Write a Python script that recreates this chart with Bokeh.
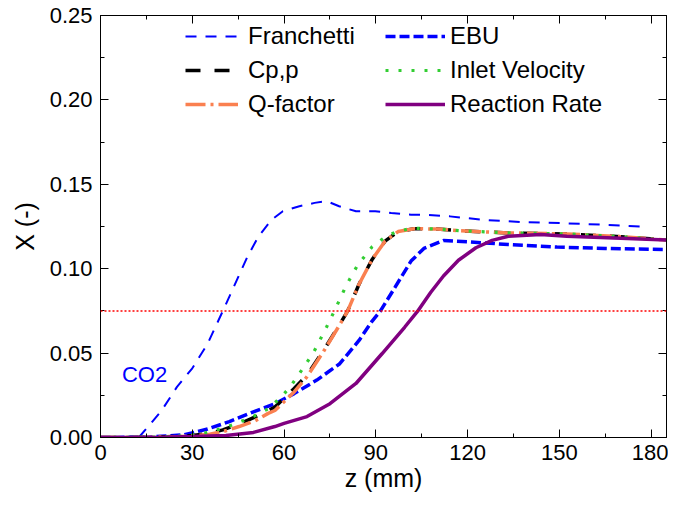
from bokeh.plotting import figure
from bokeh.models import (Range1d, LinearAxis, Legend, LegendItem, FixedTicker,
                          NumeralTickFormatter, Span, Label)
from bokeh.embed import file_html
from bokeh.resources import INLINE

# ---------------- data ----------------
z_fr = [12.5, 15.6, 20, 25, 30, 35, 40, 45, 48, 51.6, 55.9, 59.6, 65, 70, 73.9,
        78, 83.5, 89.8, 95, 101.5, 105.7, 114.2, 124.8, 137.5, 150.3, 165, 177]
x_fr = [0.0, 0.0065, 0.016, 0.030, 0.041, 0.0555, 0.075, 0.095, 0.107, 0.119, 0.129,
        0.134, 0.137, 0.139, 0.140, 0.137, 0.134, 0.134, 0.133, 0.132, 0.132, 0.131,
        0.129, 0.1276, 0.127, 0.126, 0.125]

z_ebu = [0, 15, 27.3, 35, 42.1, 50, 57, 63.3, 70.7, 78.2, 84.5, 88.8, 91.4, 96.2,
         101.5, 105.7, 112.1, 120.6, 133.3, 149.2, 165, 185]
x_ebu = [0, 0.0002, 0.0016, 0.005, 0.0094, 0.0152, 0.020, 0.026, 0.034, 0.0437,
         0.0575, 0.069, 0.0747, 0.0888, 0.1045, 0.112, 0.1167, 0.1159, 0.1143,
         0.1128, 0.112, 0.1114]

z_cp = [0, 15, 25, 30, 35.7, 40, 45.3, 50.6, 57, 63.3, 67.5, 72.9, 77.6, 80.8, 84.5,
        88.8, 93, 97.3, 102.5, 110, 117.4, 133.3, 152.4, 170, 185]
x_cp = [0, 0.0001, 0.0006, 0.0012, 0.0025, 0.0045, 0.0080, 0.0122, 0.018, 0.029,
        0.0369, 0.0516, 0.0653, 0.075, 0.0908, 0.1055, 0.1163, 0.122, 0.1237,
        0.1235, 0.1225, 0.1212, 0.1206, 0.119, 0.117]

z_iv = [0, 15, 25, 30, 35, 40, 45, 50, 54.8, 59.1, 62, 66.5, 69.7, 73.9, 76.6, 80.3,
        84, 88.8, 92.5, 96.7, 102, 110, 117.4, 133.3, 152.4, 170, 185]
x_iv = [0, 0.0001, 0.0007, 0.0014, 0.003, 0.0055, 0.0088, 0.0125, 0.017, 0.024,
        0.030, 0.0418, 0.0506, 0.0655, 0.0755, 0.090, 0.102, 0.113, 0.118, 0.122,
        0.124, 0.1235, 0.1225, 0.1212, 0.1206, 0.119, 0.117]

z_qf = [0, 15, 25, 30, 35.7, 40, 45.3, 50.6, 54.8, 57, 63.3, 67.5, 72.9, 77.6, 80.8,
        84.5, 88.8, 93, 97.3, 102.5, 110, 117.4, 133.3, 152.4, 170, 185]
x_qf = [0, 0.0001, 0.0005, 0.0010, 0.0020, 0.0035, 0.0065, 0.010, 0.0143, 0.016,
        0.027, 0.0360, 0.0510, 0.0650, 0.075, 0.0908, 0.1055, 0.1163, 0.122, 0.1237,
        0.1235, 0.1225, 0.1212, 0.1206, 0.119, 0.117]

z_rr = [0, 20, 30, 41, 50, 57, 60, 67.5, 75, 83.5, 92, 99.4, 103.6, 107.9, 112.1,
        117, 122.7, 128, 133.3, 143.9, 152.4, 170, 185]
x_rr = [0, 0.0002, 0.0006, 0.0012, 0.003, 0.0065, 0.0084, 0.0124, 0.020, 0.032,
        0.0496, 0.0653, 0.0747, 0.0859, 0.0957, 0.105, 0.1124, 0.1168, 0.1192,
        0.1202, 0.1192, 0.118, 0.117]

threshold = 0.075
x_ticks = [0, 30, 60, 90, 120, 150, 180]
y_ticks = [0.00, 0.05, 0.10, 0.15, 0.20, 0.25]
series_labels = ["Franchetti", "EBU", "Cp,p", "Inlet Velocity", "Q-factor", "Reaction Rate"]
annotation = "CO2"

FONT = "Liberation Sans"

p = figure(width=668, height=494, output_backend="svg", toolbar_location=None,
           x_range=Range1d(0, 185), y_range=Range1d(0, 0.25),
           min_border_left=100, min_border_right=2, min_border_top=15, min_border_bottom=56,
           x_axis_label="z (mm)", y_axis_label="X (-)")
p.grid.visible = False
p.outline_line_color = "black"
p.outline_line_width = 1


def style_axis(ax, ticks, minor, show_labels=True):
    ax.ticker = FixedTicker(ticks=ticks, minor_ticks=minor)
    ax.axis_line_color = "black"
    ax.axis_line_width = 1
    ax.major_tick_in = 8
    ax.major_tick_out = 0
    ax.minor_tick_in = 4
    ax.minor_tick_out = 0
    ax.major_tick_line_color = "black"
    ax.minor_tick_line_color = "black"
    ax.major_label_text_font = FONT
    ax.major_label_text_font_size = "22px"
    ax.major_label_text_color = "black"
    ax.axis_label_text_font = FONT
    ax.axis_label_text_font_size = "25px"
    ax.axis_label_text_font_style = "normal"
    ax.axis_label_text_color = "black"
    if not show_labels:
        ax.major_label_overrides = {t: "" for t in ticks}
        ax.major_label_standoff = 0


x_minor = [v + 15 for v in x_ticks]
y_minor = [round(v + 0.025, 3) for v in y_ticks[:-1]]

for ax in p.xaxis:
    style_axis(ax, x_ticks, x_minor)
    ax.major_label_standoff = 7
    ax.axis_label_standoff = 1
for ax in p.yaxis:
    style_axis(ax, y_ticks, y_minor)
    ax.formatter = NumeralTickFormatter(format="0.00")
    ax.major_label_standoff = 8
    ax.axis_label_standoff = 8

top = LinearAxis()
style_axis(top, x_ticks, x_minor, show_labels=False)
p.add_layout(top, "above")
right = LinearAxis()
style_axis(right, y_ticks, y_minor, show_labels=False)
p.add_layout(right, "right")

# threshold line
p.add_layout(Span(location=threshold, dimension="width", line_color="#FF0000",
                  line_width=1.5, line_dash="2 2"))

r_fr = p.line(z_fr, x_fr, line_color="#0000FF", line_width=2, line_dash="11 9")
r_ebu = p.line(z_ebu, x_ebu, line_color="#0000FF", line_width=3.5, line_dash="10 4")
r_cp = p.line(z_cp, x_cp, line_color="black", line_width=3.5, line_dash="15 14")
r_qf = p.line(z_qf, x_qf, line_color="#FA8050", line_width=3.5, line_dash="20 5 3 5")
r_iv = p.line(z_iv, x_iv, line_color="#32CD32", line_width=3.2, line_dash="3 10")
r_rr = p.line(z_rr, x_rr, line_color="#800080", line_width=3.5)

p.add_layout(Label(x=7, y=0.0376, text=annotation, text_color="#0000FF",
                   text_font=FONT, text_font_size="22px", text_baseline="middle",
                   text_align="left"))


def make_legend(items, loc, gw, standoff):
    return Legend(items=items, location=loc, orientation="vertical",
                  border_line_color=None, background_fill_alpha=0,
                  padding=0, margin=0, spacing=6,
                  glyph_width=gw, glyph_height=24, label_height=24,
                  label_standoff=standoff,
                  label_text_font=FONT, label_text_font_size="24px",
                  label_text_color="black")


leg1 = make_legend([LegendItem(label=series_labels[0], renderers=[r_fr]),
                    LegendItem(label=series_labels[2], renderers=[r_cp]),
                    LegendItem(label=series_labels[4], renderers=[r_qf])],
                   (85, 319), 53, 10)
leg2 = make_legend([LegendItem(label=series_labels[1], renderers=[r_ebu]),
                    LegendItem(label=series_labels[3], renderers=[r_iv]),
                    LegendItem(label=series_labels[5], renderers=[r_rr])],
                   (285, 319), 60, 5)
p.add_layout(leg1, "center")
p.add_layout(leg2, "center")

open("out.html", "w").write(file_html(p, INLINE))
